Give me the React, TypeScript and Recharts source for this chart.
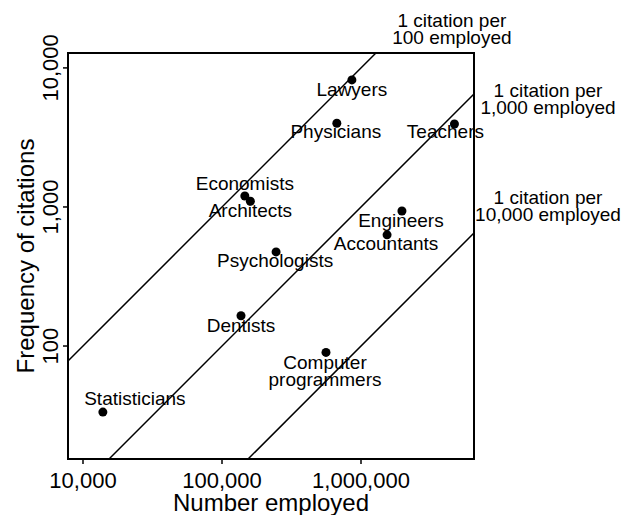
import { ReferenceArea, ReferenceLine, Scatter, ScatterChart, XAxis, YAxis } from "recharts";

// occupations and their values
const occupations = [
  "Lawyers",
  "Physicians",
  "Teachers",
  "Economists",
  "Architects",
  "Psychologists",
  "Engineers",
  "Accountants",
  "Dentists",
  "Computer\nprogrammers",
  "Statisticians",
];
const employed = [860000, 670000, 4700000, 146000, 160000, 245000, 1970000, 1540000, 137000, 560000, 13900];
const citations = [8200, 4000, 3950, 1200, 1100, 475, 935, 630, 165, 90, 33.5];

const xTicks = [10000, 100000, 1000000];
const yTicks = [100, 1000, 10000];
const xDomain = [7800, 6500000];
const yDomain = [15.4, 12800];

// one citation per N employed
const perEmployed = [100, 1000, 10000];
const rateLabels = [
  ["1 citation per", "100 employed"],
  ["1 citation per", "1,000 employed"],
  ["1 citation per", "10,000 employed"],
];

// label placement (pixels from the dot / from the upper end of the line)
const labelOffset: Record<string, [number, number]> = {
  Lawyers: [0, 16],
  Physicians: [-1, 15],
  Teachers: [-9, 14],
  Economists: [0, -6],
  Architects: [0, 16],
  Psychologists: [-1, 15],
  Engineers: [-1, 16],
  Accountants: [-1, 15],
  Dentists: [0, 16],
  "Computer\nprogrammers": [-1, 17],
  Statisticians: [32, -7],
};
const rateOffset: [number, number][] = [
  [76, -26],
  [74, 3],
  [74, -29],
];

const FONT = "'Liberation Sans', Arial, Helvetica, sans-serif";

const points = occupations.map((name, i) => ({
  name,
  employed: employed[i],
  citations: citations[i],
}));

function segmentFor(k: number) {
  const x0 = Math.max(xDomain[0], yDomain[0] * k);
  const x1 = Math.min(xDomain[1], yDomain[1] * k);
  return [
    { x: x0, y: x0 / k },
    { x: x1, y: x1 / k },
  ];
}

function Dot(props: any) {
  const { cx, cy, payload } = props;
  const [dx, dy] = labelOffset[payload.name] ?? [0, 16];
  const lines = String(payload.name).split("\n");
  return (
    <g>
      <circle cx={cx} cy={cy} r={4.5} fill="#000" />
      {lines.map((t, i) => (
        <text
          key={i}
          x={cx + dx}
          y={cy + dy + i * 16.7}
          textAnchor="middle"
          fontSize={19}
          fill="#000"
        >
          {t}
        </text>
      ))}
    </g>
  );
}

function RateNote(props: any) {
  const { viewBox, lines, dx, dy } = props;
  if (!viewBox) return null;
  const ax = viewBox.x + viewBox.width;
  const ay = viewBox.y;
  return (
    <g>
      {lines.map((t: string, i: number) => (
        <text
          key={i}
          x={ax + dx}
          y={ay + dy + i * 17.3}
          textAnchor="middle"
          fontSize={19}
          fill="#000"
        >
          {t}
        </text>
      ))}
    </g>
  );
}

function YTick(props: any) {
  const { x, y, payload } = props;
  return (
    <text
      x={x}
      y={y}
      transform={`rotate(-90 ${x} ${y})`}
      textAnchor="middle"
      fontSize={22}
      fill="#000"
    >
      {payload.value.toLocaleString("en-US")}
    </text>
  );
}

function XTitle(props: any) {
  const vb = props.viewBox;
  if (!vb) return null;
  return (
    <text x={vb.x + vb.width / 2} y={vb.y + 52} textAnchor="middle" fontSize={24} fill="#000">
      Number employed
    </text>
  );
}

function YTitle(props: any) {
  const vb = props.viewBox;
  if (!vb) return null;
  const cx = 34;
  const cy = vb.y + vb.height / 2;
  return (
    <text
      x={cx}
      y={cy}
      transform={`rotate(-90 ${cx} ${cy})`}
      textAnchor="middle"
      fontSize={24}
      fill="#000"
    >
      Frequency of citations
    </text>
  );
}

export default function App() {
  return (
    <div style={{ position: "absolute", left: 0, top: 0, fontFamily: FONT, background: "#fff" }}>
      <ScatterChart
        width={632}
        height={515}
        margin={{ top: 53, right: 158, bottom: 0, left: 0 }}
      >
        <XAxis
          type="number"
          dataKey="employed"
          scale="log"
          domain={xDomain}
          ticks={xTicks}
          height={56}
          axisLine={false}
          tickLine={{ stroke: "#000", strokeWidth: 1.5 }}
          tickSize={5}
          tickMargin={8}
          tick={{ fill: "#000", fontSize: 22 }}
          tickFormatter={(v: number) => v.toLocaleString("en-US")}
          label={<XTitle />}
        />
        <YAxis
          type="number"
          dataKey="citations"
          scale="log"
          domain={yDomain}
          ticks={yTicks}
          width={68}
          axisLine={false}
          tickLine={{ stroke: "#000", strokeWidth: 1.5 }}
          tickSize={5}
          tickMargin={5}
          tick={<YTick />}
          label={<YTitle />}
        />
        <ReferenceArea
          x1={xDomain[0]}
          x2={xDomain[1]}
          y1={yDomain[0]}
          y2={yDomain[1]}
          fill="none"
          fillOpacity={0}
          stroke="#000"
          strokeWidth={2}
          ifOverflow="visible"
        />
        {perEmployed.map((k, i) => (
          <ReferenceLine
            key={k}
            segment={segmentFor(k)}
            stroke="#000"
            strokeWidth={1.5}
            ifOverflow="visible"
            label={<RateNote lines={rateLabels[i]} dx={rateOffset[i][0]} dy={rateOffset[i][1]} />}
          />
        ))}
        <Scatter data={points} shape={<Dot />} isAnimationActive={false} />
      </ScatterChart>
    </div>
  );
}
